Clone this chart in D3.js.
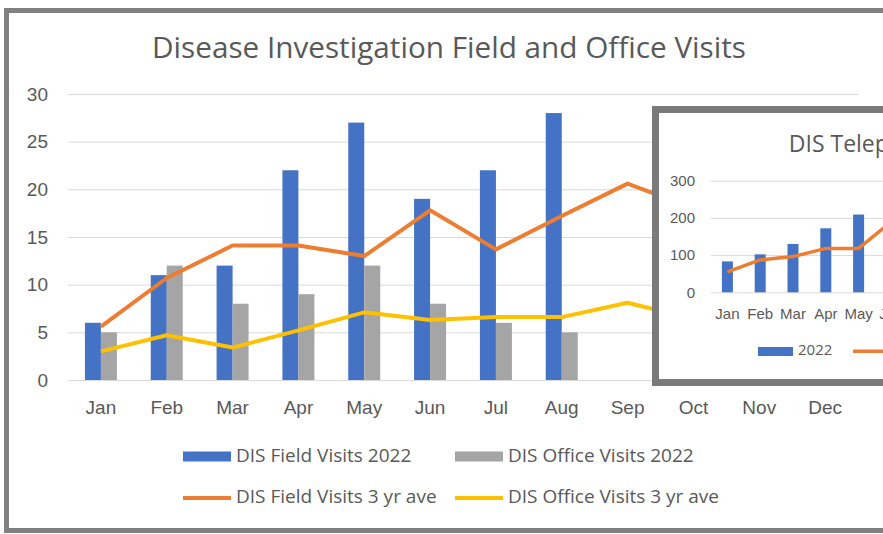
<!DOCTYPE html>
<html>
<head>
<meta charset="utf-8">
<script src="https://cdn.jsdelivr.net/npm/d3@7"></script>
<style>
  html, body { margin: 0; padding: 0; background: #ffffff; }
  svg { display: block; }
  text { font-family: "Open Sans", "Liberation Sans", sans-serif; fill: #595959; }
</style>
</head>
<body>
<svg id="visitsChart" width="883" height="534"></svg>
<script>
// ---- main chart data ----
const months = ["Jan", "Feb", "Mar", "Apr", "May", "Jun", "Jul", "Aug", "Sep", "Oct", "Nov", "Dec"];
const fieldVisits2022 = [6, 11, 12, 22, 27, 19, 22, 28];
const officeVisits2022 = [5, 12, 8, 9, 12, 8, 6, 5];
const fieldVisitsAve = [5.6, 10.7, 14.1, 14.1, 13, 17.8, 13.7, 17.2, 20.6, 18, 15.5, 13];
const officeVisitsAve = [3, 4.7, 3.4, 5.2, 7.1, 6.3, 6.6, 6.6, 8.1, 6.4, 5.5, 4.5];
const yTicks = [0, 5, 10, 15, 20, 25, 30];

// ---- inset (telephone) chart data ----
const phoneMonths = months;
const phoneVisits2022 = [83, 102, 130, 172, 209];
const phoneVisitsAve = [55, 87, 96, 118, 118, 190];
const phoneTicks = [0, 100, 200, 300];

const blue = "#4472c4", grey = "#a5a5a5", orange = "#ed7d31", yellow = "#ffc000";

let svg = d3.select("#visitsChart");

// outer frame
svg.append("rect")
    .attr("x", 6.5).attr("y", 10.5)
    .attr("width", 1000).attr("height", 520)
    .attr("fill", "#ffffff")
    .attr("stroke", "#808080")
    .attr("stroke-width", 5);

// title
svg.append("text")
    .attr("x", 449).attr("y", 58)
    .attr("text-anchor", "middle")
    .attr("font-size", "29px")
    .attr("textLength", 594)
    .attr("lengthAdjust", "spacingAndGlyphs")
    .text("Disease Investigation Field and Office Visits");

// scales
let x = d3.scaleBand().domain(months).range([68, 858]).padding(0);
let xSub = d3.scaleBand().domain(["field", "office"]).range([-16, 16]);
let y = d3.scaleLinear().domain([0, 30]).range([380, 94]);

// Y axis with grid lines
let yAxis = svg.append("g")
    .attr("transform", "translate(68,0)")
    .call(d3.axisLeft(y).tickValues(yTicks).tickSize(-(858 - 68)).tickPadding(20));
yAxis.select(".domain").remove();
yAxis.selectAll("line").attr("stroke", "#d9d9d9");
yAxis.selectAll("text").attr("font-size", "19px").attr("fill", "#595959")
     .style("font-family", "inherit");

// X axis labels
let xAxis = svg.append("g")
    .attr("transform", "translate(0,380)")
    .call(d3.axisBottom(x).tickSize(0).tickPadding(21));
xAxis.select(".domain").remove();
xAxis.selectAll("text").attr("font-size", "19px").attr("fill", "#595959")
     .style("font-family", "inherit");

// bars
svg.append("g").selectAll("rect")
    .data(fieldVisits2022)
    .join("rect")
    .attr("x", (d, i) => x(months[i]) + x.bandwidth() / 2 + xSub("field"))
    .attr("y", d => y(d))
    .attr("width", xSub.bandwidth())
    .attr("height", d => y(0) - y(d))
    .attr("fill", blue);

svg.append("g").selectAll("rect")
    .data(officeVisits2022)
    .join("rect")
    .attr("x", (d, i) => x(months[i]) + x.bandwidth() / 2 + xSub("office"))
    .attr("y", d => y(d))
    .attr("width", xSub.bandwidth())
    .attr("height", d => y(0) - y(d))
    .attr("fill", grey);

// 3 yr average lines
let line = d3.line()
    .x((d, i) => x(months[i]) + x.bandwidth() / 2)
    .y(d => y(d));

svg.append("path")
    .datum(officeVisitsAve)
    .attr("fill", "none")
    .attr("stroke", yellow)
    .attr("stroke-width", 4)
    .attr("stroke-linejoin", "round")
    .attr("d", line);

svg.append("path")
    .datum(fieldVisitsAve)
    .attr("fill", "none")
    .attr("stroke", orange)
    .attr("stroke-width", 4)
    .attr("stroke-linejoin", "round")
    .attr("d", line);

// legend
let legend = [
  {label: "DIS Field Visits 2022", color: blue, kind: "bar", lx: 183, ly: 456.5},
  {label: "DIS Office Visits 2022", color: grey, kind: "bar", lx: 455, ly: 456.5},
  {label: "DIS Field Visits 3 yr ave", color: orange, kind: "line", lx: 183, ly: 498},
  {label: "DIS Office Visits 3 yr ave", color: yellow, kind: "line", lx: 455, ly: 498}
];
let legendItem = svg.append("g").selectAll("g")
    .data(legend)
    .join("g")
    .attr("transform", d => "translate(" + d.lx + "," + d.ly + ")");
legendItem.append("rect")
    .attr("x", 0)
    .attr("y", d => d.kind === "bar" ? -5 : -2)
    .attr("width", 48)
    .attr("height", d => d.kind === "bar" ? 10 : 4)
    .attr("fill", d => d.color);
legendItem.append("text")
    .attr("x", 53)
    .attr("y", -1.5)
    .attr("dy", "0.35em")
    .attr("font-size", "19px")
    .text(d => d.label);

/*  inset: telephone visits  */
let inset = svg.append("g");

inset.append("rect")
    .attr("x", 655.5).attr("y", 109.5)
    .attr("width", 500).attr("height", 273)
    .attr("fill", "#ffffff")
    .attr("stroke", "#7a7a7a")
    .attr("stroke-width", 7);

inset.append("text")
    .attr("x", 897).attr("y", 152)
    .attr("text-anchor", "middle")
    .attr("font-size", "23px")
    .text("DIS Telephone Visits");

let px = d3.scaleBand().domain(phoneMonths).range([711, 711 + 12 * 32.8]).padding(0);
let py = d3.scaleLinear().domain([0, 300]).range([292.3, 180.7]);

let pyAxis = inset.append("g")
    .attr("transform", "translate(711,0)")
    .call(d3.axisLeft(py).tickValues(phoneTicks).tickSize(-(12 * 32.8)).tickPadding(16));
pyAxis.select(".domain").remove();
pyAxis.selectAll("line").attr("stroke", "#d9d9d9");
pyAxis.selectAll("text").attr("font-size", "15px").attr("fill", "#595959")
      .style("font-family", "inherit");

let pxAxis = inset.append("g")
    .attr("transform", "translate(0,292.3)")
    .call(d3.axisBottom(px).tickSize(0).tickPadding(16));
pxAxis.select(".domain").remove();
pxAxis.selectAll("text").attr("font-size", "15px").attr("fill", "#595959")
      .style("font-family", "inherit");

inset.append("g").selectAll("rect")
    .data(phoneVisits2022)
    .join("rect")
    .attr("x", (d, i) => px(phoneMonths[i]) + px.bandwidth() / 2 - 5.5)
    .attr("y", d => py(d))
    .attr("width", 11)
    .attr("height", d => py(0) - py(d))
    .attr("fill", blue);

inset.append("path")
    .datum(phoneVisitsAve)
    .attr("fill", "none")
    .attr("stroke", orange)
    .attr("stroke-width", 3.5)
    .attr("stroke-linejoin", "round")
    .attr("d", d3.line()
                 .x((d, i) => px(phoneMonths[i]) + px.bandwidth() / 2)
                 .y(d => py(d)));

// inset legend
inset.append("rect")
    .attr("x", 758).attr("y", 347)
    .attr("width", 35).attr("height", 9)
    .attr("fill", blue);
inset.append("text")
    .attr("x", 798).attr("y", 350).attr("dy", "0.35em")
    .attr("font-size", "15px")
    .text("2022");
inset.append("rect")
    .attr("x", 853).attr("y", 349.5)
    .attr("width", 35).attr("height", 3.5)
    .attr("fill", orange);
inset.append("text")
    .attr("x", 893).attr("y", 350).attr("dy", "0.35em")
    .attr("font-size", "15px")
    .text("3 yr ave");
</script>
</body>
</html>
